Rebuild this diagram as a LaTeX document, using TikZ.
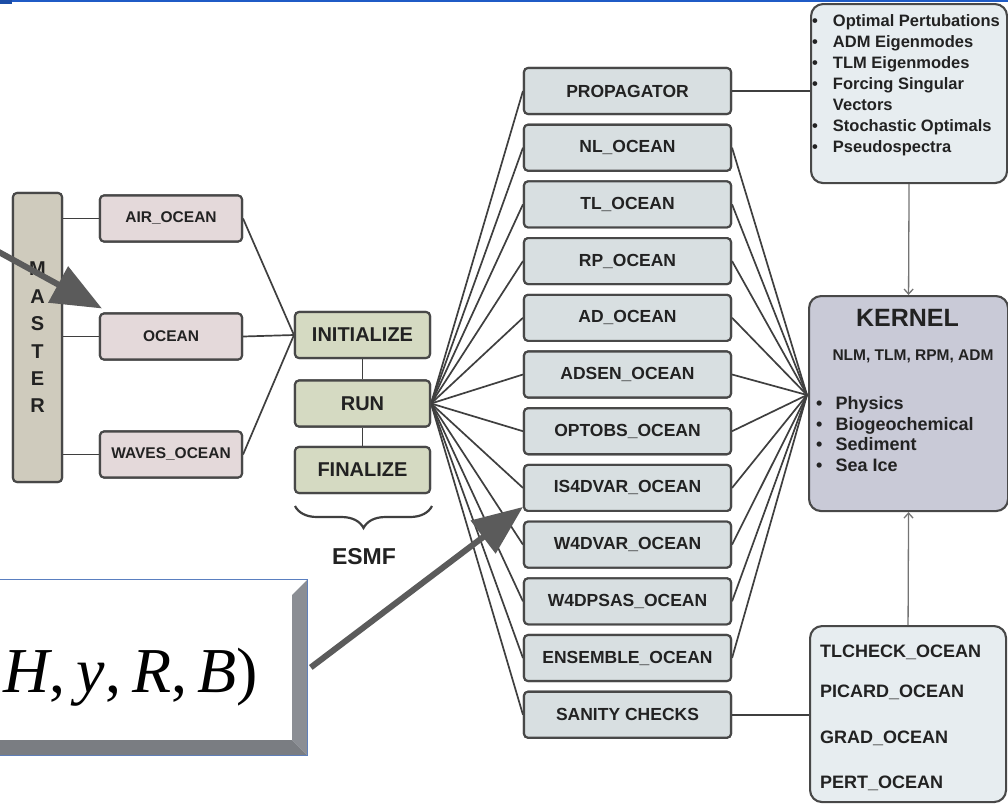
\documentclass[tikz,border=0pt]{standalone}
\usepackage{fontspec}
\setmainfont{Liberation Sans}
\newfontfamily\tms{Liberation Serif}
\usetikzlibrary{arrows.meta,decorations.pathreplacing,calc}
\definecolor{bordc}{HTML}{484848}
\definecolor{linec}{HTML}{3F3F3F}
\definecolor{txtc}{HTML}{222222}
\definecolor{pinkc}{HTML}{E4D9DA}
\definecolor{masterc}{HTML}{CFCBBD}
\definecolor{esmfc}{HTML}{D5DAC2}
\definecolor{midc}{HTML}{D8DFE1}
\definecolor{kernc}{HTML}{C9CAD7}
\definecolor{lightc}{HTML}{E7EDF0}
\definecolor{arrc}{HTML}{5B5B5B}
\definecolor{topblue}{HTML}{1F5BC6}
\definecolor{darkblue}{HTML}{1C4DA6}
\definecolor{fborder}{HTML}{5A7FC0}
\definecolor{bevr}{HTML}{8B8E94}
\definecolor{bevb}{HTML}{7A7D82}
\begin{document}
\begin{tikzpicture}[x=1pt,y=-1pt,
  box/.style={draw=bordc, line width=2.1pt, rounded corners=4pt, inner sep=0pt, text=txtc},
  pinkbox/.style={box, fill=pinkc, minimum width=142pt, minimum height=46pt, font=\fontsize{15.5}{18}\selectfont\bfseries},
  esmfbox/.style={box, fill=esmfc, minimum width=135pt, minimum height=46pt, font=\fontsize{20}{24}\selectfont\bfseries},
  midbox/.style={box, fill=midc, minimum width=207pt, minimum height=46pt, font=\fontsize{17.5}{21}\selectfont\bfseries},
  bigbox/.style={draw=bordc, line width=2.1pt, rounded corners=12pt, inner sep=0pt},
  conn/.style={draw=linec, line width=1.7pt},
  thinarrow/.style={draw=arrc!85, line width=1.3pt, -{Straight Barb[length=5pt,width=9pt]}},
  bigarrow/.style={draw=arrc, line width=6pt, -{Triangle[length=50pt,width=40pt]}},
  lbl/.style={inner sep=0pt, text=txtc}
]
\useasboundingbox (0,0) rectangle (1008,804);
\fill[white] (0,0) rectangle (1008,804);
% top bar
\fill[topblue] (0,0) rectangle (1008,2.2);
\fill[darkblue] (0,0) rectangle (12,4);

% ---------- nodes (positions) ----------
\node[box, fill=masterc, minimum width=49pt, minimum height=289pt, align=center,
      font=\fontsize{20}{27.4}\selectfont\bfseries] (master) at (37.5,337.5) {M\\A\\S\\T\\E\\R};

\node[pinkbox] (air) at (171,218.5) {AIR\_OCEAN};
\node[pinkbox] (ocean) at (171,336.5) {OCEAN};
\node[pinkbox] (waves) at (171,454.5) {WAVES\_OCEAN};

\node[esmfbox] (init) at (362.5,335) {INITIALIZE};
\node[esmfbox] (run) at (362.5,403.5) {RUN};
\node[esmfbox] (fin) at (362.5,470) {FINALIZE};

\foreach \nm/\tx [count=\i from 0] in {prop/PROPAGATOR, nl/NL\_OCEAN, tl/TL\_OCEAN, rp/RP\_OCEAN, ad/AD\_OCEAN, adsen/ADSEN\_OCEAN, optobs/OPTOBS\_OCEAN, is4d/IS4DVAR\_OCEAN, wfdvar/W4DVAR\_OCEAN, wfdpsas/W4DPSAS\_OCEAN, ens/ENSEMBLE\_OCEAN, san/SANITY CHECKS}
  \node[midbox] (\nm) at (627.5,{91+56.7*\i}) {\tx};

\node[bigbox, fill=lightc, minimum width=196pt, minimum height=179pt, anchor=north west] (opt) at (810,3) {};
\node[bigbox, fill=kernc, minimum width=199pt, minimum height=215pt, anchor=north west] (kernel) at (808,295) {};
\node[bigbox, fill=lightc, minimum width=196pt, minimum height=176pt, anchor=north west] (chk) at (809,625) {};
\coordinate (kin) at (807,395);

% ---------- connectors ----------
\foreach \b in {air,ocean,waves}{
  \draw[conn] (master.east |- \b) -- (\b.west);
  \draw[conn] (\b.east) -- (init.west);
}
\draw[conn] (init.south) -- (run.north);
\draw[conn] (run.south) -- (fin.north);
\foreach \nm in {prop,nl,tl,rp,ad,adsen,optobs,is4d,wfdvar,wfdpsas,ens,san}
  \draw[conn] (run.east) -- (\nm.west);
\foreach \nm in {nl,tl,rp,ad,adsen,optobs,is4d,wfdvar,wfdpsas,ens}
  \draw[conn] (\nm.east) -- (kin);
\draw[conn] (prop.east) -- (prop.east -| opt.west);
\draw[conn] (san.east) -- (san.east -| chk.west);
\draw[thinarrow] (opt.south) -- (kernel.north);
\draw[thinarrow] (chk.north) -- (kernel.south);

% redraw boxes on top of connectors
\node[box, fill=masterc, minimum width=49pt, minimum height=289pt, align=center,
      font=\fontsize{20}{27.4}\selectfont\bfseries] at (master) {M\\A\\S\\T\\E\\R};
\node[pinkbox] at (air) {AIR\_OCEAN};
\node[pinkbox] at (ocean) {OCEAN};
\node[pinkbox] at (waves) {WAVES\_OCEAN};
\node[esmfbox] at (init) {INITIALIZE};
\node[esmfbox] at (run) {RUN};
\node[esmfbox] at (fin) {FINALIZE};
\foreach \nm/\tx in {prop/PROPAGATOR, nl/NL\_OCEAN, tl/TL\_OCEAN, rp/RP\_OCEAN, ad/AD\_OCEAN, adsen/ADSEN\_OCEAN, optobs/OPTOBS\_OCEAN, is4d/IS4DVAR\_OCEAN, wfdvar/W4DVAR\_OCEAN, wfdpsas/W4DPSAS\_OCEAN, ens/ENSEMBLE\_OCEAN, san/SANITY CHECKS}
  \node[midbox] at (\nm) {\tx};

% ESMF brace
\draw[draw=linec, line width=2.2pt, decorate, decoration={brace, amplitude=22pt}] (432,506) -- (295,506);
\node[lbl, font=\fontsize{23}{26}\selectfont\bfseries] (esmf) at (364,557) {ESMF};

% top right list
\node[lbl, anchor=north west, font=\fontsize{16.5}{21}\selectfont\bfseries] (optlist) at (812,11.3)
  {\begin{tabular}{@{}l@{\hspace{15pt}}l@{}}
   • & Optimal Pertubations\\
   • & ADM Eigenmodes\\
   • & TLM Eigenmodes\\
   • & Forcing Singular\\
     & Vectors\\
   • & Stochastic Optimals\\
   • & Pseudospectra
   \end{tabular}};

% kernel text
\node[lbl, font=\fontsize{25}{30}\selectfont\bfseries] (ktitle) at (907.5,318) {KERNEL};
\node[lbl, font=\fontsize{15.5}{18}\selectfont\bfseries] (kmods) at (913,356) {NLM, TLM, RPM, ADM};
\node[lbl, anchor=north west, font=\fontsize{18}{20.5}\selectfont\bfseries] (klist) at (816,395)
  {\begin{tabular}{@{}l@{\hspace{13pt}}l@{}}
   • & Physics\\
   • & Biogeochemical\\
   • & Sediment\\
   • & Sea Ice
   \end{tabular}};

% checks list
\node[lbl, anchor=west, font=\fontsize{18}{21}\selectfont\bfseries] (c1) at (820,652) {TLCHECK\_OCEAN};
\node[lbl, anchor=west, font=\fontsize{18}{21}\selectfont\bfseries] (c2) at (820,692) {PICARD\_OCEAN};
\node[lbl, anchor=west, font=\fontsize{18}{21}\selectfont\bfseries] (c3) at (820,738) {GRAD\_OCEAN};
\node[lbl, anchor=west, font=\fontsize{18}{21}\selectfont\bfseries] (c4) at (820,783) {PERT\_OCEAN};

% formula box with bevel
\node[draw=fborder, line width=0.8pt, fill=white, minimum width=312pt, minimum height=176pt, inner sep=0pt, anchor=north west] (fbox) at (-5,579) {};
\fill[bevr] (292,595) -- (307,580) -- (307,755) -- (292,740) -- cycle;
\fill[bevb] (-5,740) -- (292,740) -- (307,755) -- (-5,755) -- cycle;
\draw[fborder, line width=0.8pt] (-5,579) -- (307,579);
\node[inner sep=0pt, anchor=base east, font=\tms\fontsize{64}{70}\selectfont, text=black] (ftext) at (258,692)
  {\itshape H\upshape,\hspace{11pt}\itshape y\upshape,\hspace{11pt}\itshape R\upshape,\hspace{10pt}\itshape B\upshape)};

% big arrows
\coordinate (a1) at (-3,251);
\draw[bigarrow] (a1) -- ($(ocean.north west)+(3,-4)$);
\draw[bigarrow] ($(fbox.east)+(3,0)$) -- ($(is4d.south west)+(0,-5)$);
\end{tikzpicture}
\end{document}
